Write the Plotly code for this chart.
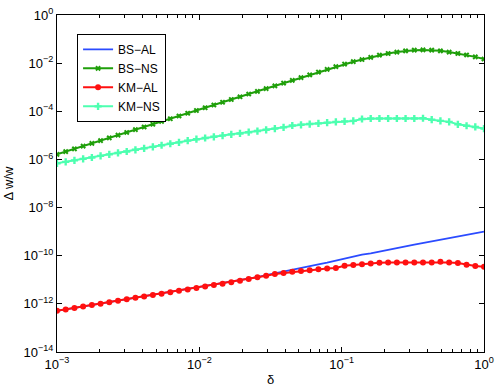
import plotly.graph_objects as go

delta = [0.001, 0.001151, 0.001326, 0.001526, 0.001758, 0.002024, 0.002330, 0.002683,
         0.003089, 0.003556, 0.004095, 0.004715, 0.005429, 0.006251, 0.007197, 0.008286,
         0.009541, 0.010985, 0.012649, 0.014563, 0.016768, 0.019307, 0.022230, 0.025595,
         0.029471, 0.033932, 0.039069, 0.044984, 0.051795, 0.059636, 0.068665, 0.079060,
         0.091030, 0.10481, 0.12068, 0.13895, 0.15999, 0.18421, 0.21210, 0.24421,
         0.28118, 0.32375, 0.37276, 0.42919, 0.49417, 0.56899, 0.65513, 0.75431,
         0.86851, 1.0]

bs_al = [5.13e-13, 5.89e-13, 6.76e-13, 7.76e-13, 8.91e-13, 1.02e-12, 1.17e-12, 1.35e-12,
         1.55e-12, 1.78e-12, 2.04e-12, 2.34e-12, 2.63e-12, 3.02e-12, 3.47e-12, 3.98e-12,
         4.6e-12, 5.3e-12, 6.1e-12, 7.0e-12, 8.1e-12, 9.3e-12, 1.10e-11, 1.29e-11,
         1.55e-11, 1.86e-11, 2.14e-11, 2.57e-11, 3.02e-11, 3.63e-11, 4.37e-11, 5.13e-11,
         6.17e-11, 7.94e-11, 9.33e-11, 1.10e-10, 1.26e-10, 1.51e-10, 1.78e-10, 2.09e-10,
         2.45e-10, 2.88e-10, 3.39e-10, 3.89e-10, 4.57e-10, 5.37e-10, 6.31e-10, 7.24e-10,
         8.51e-10, 1.00e-9]

bs_ns = [1.62e-6, 2.11e-6, 2.74e-6, 3.56e-6, 4.63e-6, 6.03e-6, 7.82e-6, 1.02e-5,
         1.32e-5, 1.72e-5, 2.23e-5, 2.90e-5, 3.78e-5, 4.91e-5, 6.38e-5, 8.30e-5,
         1.08e-4, 1.40e-4, 1.82e-4, 2.37e-4, 3.08e-4, 4.00e-4, 5.20e-4, 6.76e-4,
         8.79e-4, 1.14e-3, 1.48e-3, 1.93e-3, 2.51e-3, 3.26e-3, 4.24e-3, 5.51e-3,
         7.16e-3, 9.12e-3, 1.15e-2, 1.41e-2, 1.74e-2, 2.14e-2, 2.51e-2, 2.88e-2,
         3.24e-2, 3.47e-2, 3.55e-2, 3.47e-2, 3.24e-2, 2.88e-2, 2.51e-2, 2.19e-2,
         1.82e-2, 1.48e-2]

km_al = [5.13e-13, 5.89e-13, 6.76e-13, 7.76e-13, 8.91e-13, 1.02e-12, 1.17e-12, 1.35e-12,
         1.55e-12, 1.78e-12, 2.04e-12, 2.34e-12, 2.63e-12, 3.02e-12, 3.47e-12, 3.98e-12,
         4.57e-12, 5.25e-12, 6.03e-12, 6.92e-12, 7.94e-12, 9.12e-12, 1.07e-11, 1.26e-11,
         1.48e-11, 1.74e-11, 1.91e-11, 2.14e-11, 2.34e-11, 2.51e-11, 2.75e-11, 2.95e-11,
         3.09e-11, 3.80e-11, 4.07e-11, 4.47e-11, 4.79e-11, 5.13e-11, 5.25e-11, 5.25e-11,
         5.25e-11, 5.25e-11, 5.25e-11, 5.25e-11, 5.62e-11, 5.25e-11, 5.01e-11, 4.22e-11,
         3.72e-11, 3.47e-11]

km_ns = [6.92e-7, 7.94e-7, 9.12e-7, 1.05e-6, 1.20e-6, 1.41e-6, 1.62e-6, 1.86e-6,
         2.14e-6, 2.51e-6, 2.88e-6, 3.31e-6, 3.89e-6, 4.47e-6, 5.13e-6, 6.03e-6,
         6.92e-6, 7.76e-6, 8.71e-6, 9.77e-6, 1.10e-5, 1.20e-5, 1.35e-5, 1.51e-5,
         1.70e-5, 1.91e-5, 2.14e-5, 2.57e-5, 2.75e-5, 2.95e-5, 3.16e-5, 3.39e-5,
         3.63e-5, 3.80e-5, 3.98e-5, 4.79e-5, 5.01e-5, 5.01e-5, 5.01e-5, 5.01e-5,
         5.01e-5, 5.01e-5, 5.13e-5, 4.47e-5, 3.98e-5, 3.63e-5, 2.88e-5, 2.51e-5,
         2.24e-5, 1.91e-5]

x_tickvals = [1e-3, 1e-2, 1e-1, 1e0]
x_ticktext = ["10<sup>\u22123</sup>", "10<sup>\u22122</sup>", "10<sup>\u22121</sup>", "10<sup>0</sup>"]
x_minor = [2e-3, 3e-3, 4e-3, 5e-3, 6e-3, 7e-3, 8e-3, 9e-3,
           2e-2, 3e-2, 4e-2, 5e-2, 6e-2, 7e-2, 8e-2, 9e-2,
           2e-1, 3e-1, 4e-1, 5e-1, 6e-1, 7e-1, 8e-1, 9e-1]
y_tickvals = [1e0, 1e-2, 1e-4, 1e-6, 1e-8, 1e-10, 1e-12, 1e-14]
y_ticktext = ["10<sup>0</sup>", "10<sup>\u22122</sup>", "10<sup>\u22124</sup>", "10<sup>\u22126</sup>",
              "10<sup>\u22128</sup>", "10<sup>\u221210</sup>", "10<sup>\u221212</sup>", "10<sup>\u221214</sup>"]

fig = go.Figure()
fig.add_trace(go.Scatter(x=delta, y=bs_al, name="BS\u2212AL", mode="lines",
                         line=dict(color="#2b4bff", width=1.8)))
fig.add_trace(go.Scatter(x=delta, y=bs_ns, name="BS\u2212NS", mode="lines+markers",
                         line=dict(color="#1f9f0a", width=2),
                         marker=dict(symbol="x", size=5, color="#1f9f0a")))
fig.add_trace(go.Scatter(x=delta, y=km_al, name="KM\u2212AL", mode="lines+markers",
                         line=dict(color="#ff1010", width=2),
                         marker=dict(symbol="circle", size=6, color="#ff1010")))
fig.add_trace(go.Scatter(x=delta, y=km_ns, name="KM\u2212NS", mode="lines+markers",
                         line=dict(color="#4dffb0", width=2),
                         marker=dict(symbol="cross", size=6, color="#4dffb0")))

axis_common = dict(showgrid=False, zeroline=False, showline=True, linecolor="black",
                   linewidth=1, mirror="allticks", ticks="inside", ticklen=5,
                   tickcolor="black", tickfont=dict(size=13, color="black"),
                   automargin=False)

fig.update_xaxes(type="log", range=[-3, 0], tickmode="array", tickvals=x_tickvals,
                 ticktext=x_ticktext,
                 minor=dict(tickmode="array", tickvals=x_minor, ticks="inside", ticklen=3,
                            tickcolor="black", showgrid=False),
                 title=dict(text="\u03b4", font=dict(size=13, color="black"), standoff=4),
                 **axis_common)
fig.update_yaxes(type="log", range=[-14, 0], tickmode="array", tickvals=y_tickvals,
                 ticktext=y_ticktext,
                 title=dict(text="\u0394 w/w", font=dict(size=13, color="black"), standoff=6),
                 **axis_common)

fig.update_layout(
    width=498, height=391,
    margin=dict(l=57, r=14, t=15, b=39),
    paper_bgcolor="white", plot_bgcolor="white",
    font=dict(family="Liberation Sans, Arial, sans-serif", size=13, color="black"),
    legend=dict(x=0.047, y=0.944, xanchor="left", yanchor="top",
                bordercolor="black", borderwidth=1, bgcolor="white",
                font=dict(size=12), itemwidth=30, tracegroupgap=0),
    showlegend=True,
)

fig.write_html("out.html", config={"displayModeBar": False},
               post_script="document.body.style.margin='0px';")
